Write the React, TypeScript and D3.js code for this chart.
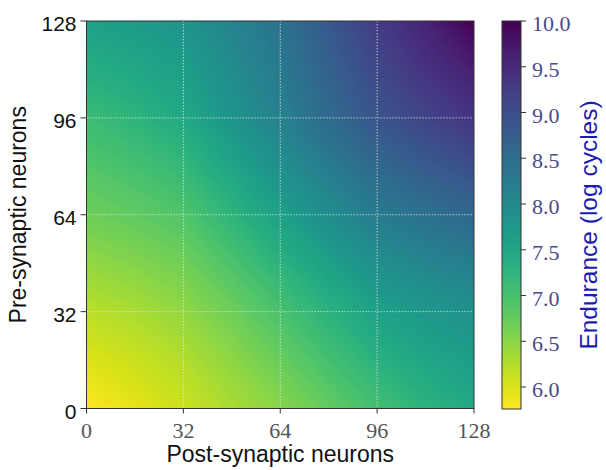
import React from 'react';
import * as d3 from 'd3';

// endurance (log cycles)
// one array per pre-synaptic count, columns = post-synaptic counts
const postNeurons = [0, 16, 32, 48, 64, 80, 96, 112, 128];
const pre0 = [5.76, 5.93, 6.1, 6.3, 6.52, 6.78, 7.04, 7.26, 7.45];
const pre16 = [5.98, 6.1, 6.25, 6.48, 6.74, 7.02, 7.3, 7.5, 7.65];
const pre32 = [6.2, 6.3, 6.45, 6.7, 6.98, 7.28, 7.58, 7.74, 7.85];
const pre48 = [6.45, 6.55, 6.68, 6.96, 7.28, 7.6, 7.9, 8.08, 8.22];
const pre64 = [6.7, 6.8, 6.92, 7.24, 7.6, 7.94, 8.25, 8.44, 8.6];
const pre80 = [6.9, 7.02, 7.18, 7.52, 7.88, 8.24, 8.58, 8.8, 8.98];
const pre96 = [7.1, 7.25, 7.45, 7.8, 8.16, 8.54, 8.9, 9.14, 9.35];
const pre112 = [7.36, 7.48, 7.62, 7.96, 8.28, 8.7, 9.08, 9.38, 9.65];
const pre128 = [7.6, 7.7, 7.8, 8.1, 8.4, 8.84, 9.25, 9.6, 10.0];

const axisTicks = [0, 32, 64, 96, 128];
const cbarTicks = [6.0, 6.5, 7.0, 7.5, 8.0, 8.5, 9.0, 9.5, 10.0];

const W = 606;
const H = 470;
const left = 86.5, right = 474, top = 21, bottom = 408.5;
const cbLeft = 502, cbRight = 521, cbTop = 21, cbBottom = 409;

const sans = '"Liberation Sans", Arial, sans-serif';
const serif = '"Liberation Serif", "Times New Roman", serif';

export default function App() {
  const rows = [pre0, pre16, pre32, pre48, pre64, pre80, pre96, pre112, pre128];
  const n = postNeurons.length;
  const cell = postNeurons[1] - postNeurons[0];
  const values = rows.flat();
  const vmin = d3.min(values) as number;
  const vmax = d3.max(values) as number;

  const x = d3.scaleLinear().domain([0, 128]).range([left, right]);
  const y = d3.scaleLinear().domain([0, 128]).range([bottom, top]);
  const color = d3.scaleSequential((t: number) => d3.interpolateViridis(1 - t)).domain([vmin, vmax]);
  const cy = d3.scaleLinear().domain([vmin, vmax]).range([cbBottom, cbTop]);

  const step = 0.02;
  const thresholds = d3.range(vmin - 0.05, vmax, step);
  const bands = d3.contours().size([n, n]).thresholds(thresholds)(values);
  const proj = d3.geoTransform({
    point(px: number, py: number) {
      (this as any).stream.point(x((px - 0.5) * cell), y((py - 0.5) * cell));
    },
  });
  const path = d3.geoPath(proj);

  const stops = d3.range(0, 1.0001, 0.05);

  return (
    <svg width={W} height={H} style={{ position: 'absolute', left: 0, top: 0, background: '#fff' }}>
      <defs>
        <clipPath id="plotClip">
          <rect x={left} y={top} width={right - left} height={bottom - top} />
        </clipPath>
        <linearGradient id="cbGrad" x1="0" y1="1" x2="0" y2="0">
          {stops.map((s) => (
            <stop key={s} offset={s} stopColor={color(vmin + s * (vmax - vmin))} />
          ))}
        </linearGradient>
      </defs>

      <g clipPath="url(#plotClip)">
        {bands.map((b, i) => (
          <path key={i} d={path(b as any) || ''} fill={color(b.value + step / 2)} />
        ))}
      </g>

      {/* grid */}
      <g stroke="#e6e6e6" strokeWidth={1} strokeDasharray="1.3 1.7" opacity={0.85}>
        {axisTicks.slice(1, -1).map((t) => (
          <g key={t}>
            <line x1={x(t)} x2={x(t)} y1={top} y2={bottom} />
            <line x1={left} x2={right} y1={y(t)} y2={y(t)} />
          </g>
        ))}
      </g>

      <rect x={left} y={top} width={right - left} height={bottom - top} fill="none" stroke="#333" strokeWidth={1} />

      {/* x axis */}
      {axisTicks.map((t) => (
        <g key={'x' + t}>
          <line x1={x(t)} x2={x(t)} y1={bottom} y2={bottom + 5} stroke="#333" />
          <text x={x(t)} y={438} textAnchor="middle" fontFamily={serif} fontSize={22} fill="#555">
            {t}
          </text>
        </g>
      ))}
      <text x={(left + right) / 2} y={462} textAnchor="middle" fontFamily={sans} fontSize={23} fill="#111">
        Post-synaptic neurons
      </text>

      {/* y axis */}
      {axisTicks.map((t) => (
        <g key={'y' + t}>
          <line x1={left - 6} x2={left} y1={y(t)} y2={y(t)} stroke="#333" />
          <text x={left - 10} y={y(t) + 10} textAnchor="end" fontFamily={sans} fontSize={21} fill="#111">
            {t}
          </text>
        </g>
      ))}
      <text
        transform={`translate(26, ${(top + bottom) / 2}) rotate(-90)`}
        textAnchor="middle"
        fontFamily={sans}
        fontSize={23}
        fill="#111"
      >
        Pre-synaptic neurons
      </text>

      {/* colorbar */}
      <rect x={cbLeft} y={cbTop} width={cbRight - cbLeft} height={cbBottom - cbTop} fill="url(#cbGrad)" stroke="#333" strokeWidth={1} />
      {cbarTicks.map((t) => (
        <g key={'c' + t}>
          <line x1={cbRight} x2={cbRight + 5} y1={cy(t)} y2={cy(t)} stroke="#333" />
          <text x={532} y={cy(t) + 10} fontFamily={serif} fontSize={22} fill="#4a4a8c">
            {t.toFixed(1)}
          </text>
        </g>
      ))}
      <text
        transform={`translate(597, 225) rotate(-90)`}
        textAnchor="middle"
        fontFamily={sans}
        fontSize={24.5}
        fill="#1c1cb0"
      >
        Endurance (log cycles)
      </text>
    </svg>
  );
}
